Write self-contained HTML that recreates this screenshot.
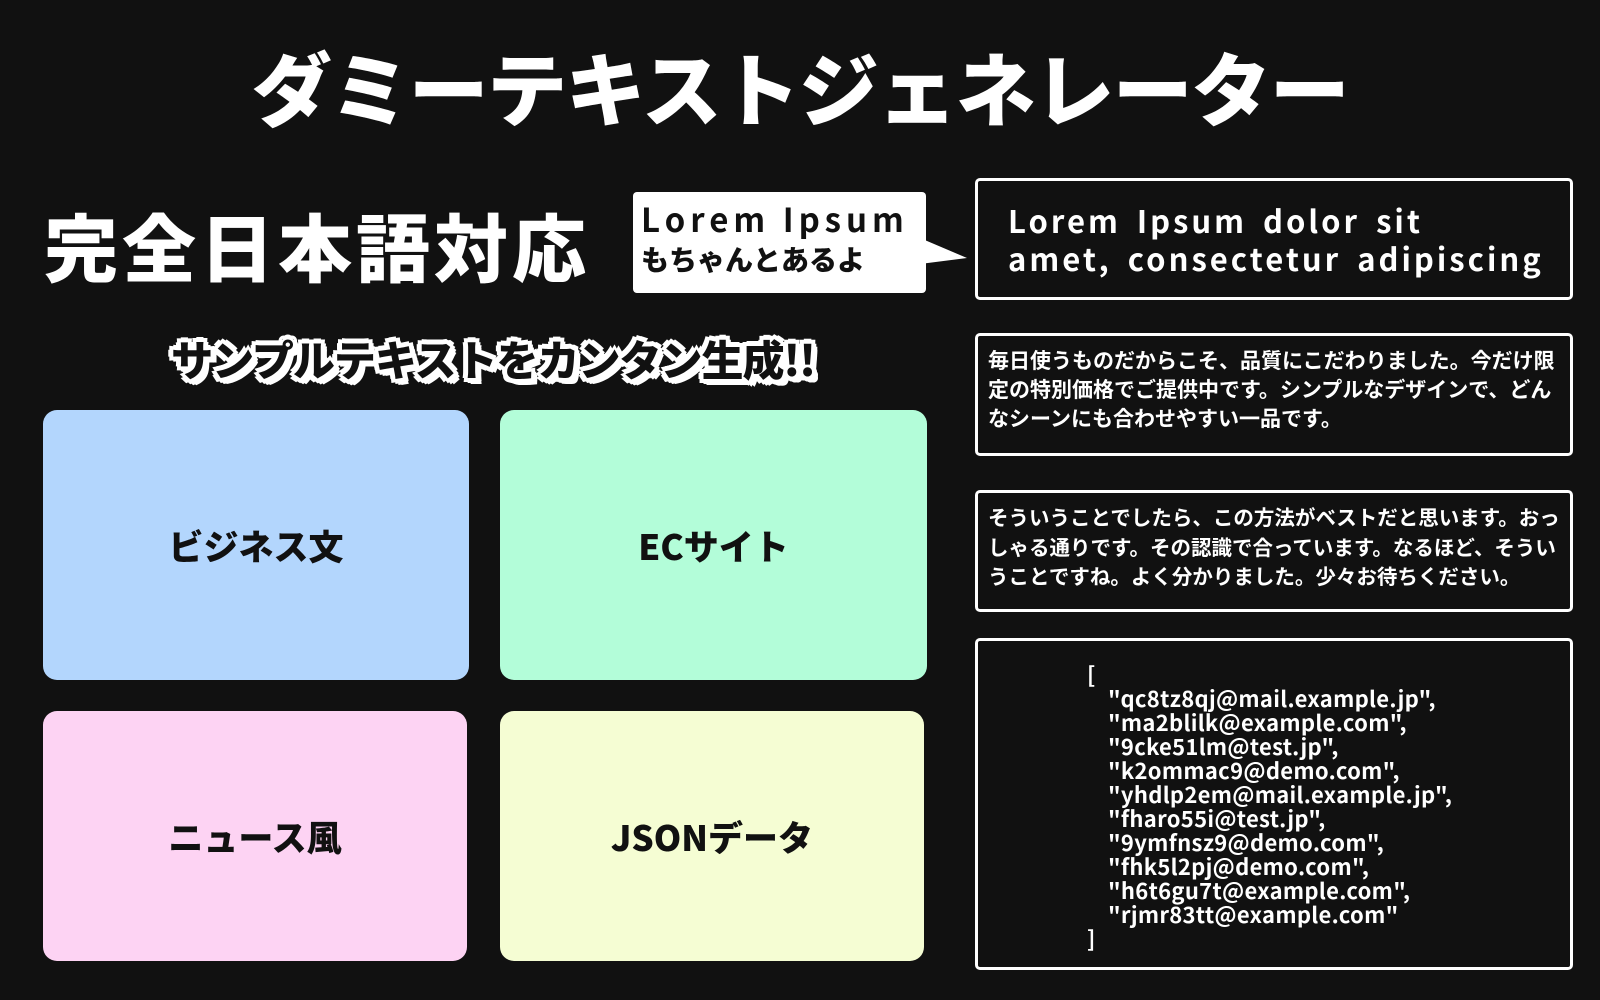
<!DOCTYPE html>
<html><head><meta charset="utf-8"><style>
*{margin:0;padding:0;box-sizing:border-box}
body{width:1600px;height:1000px;background:#111;position:relative;overflow:hidden;font-family:"Liberation Sans","Noto Sans CJK JP",sans-serif;font-weight:bold;color:#fff}
.a{position:absolute}
.t{font-family:"Noto Sans CJK JP",sans-serif;font-weight:900}
.box{position:absolute;border:3px solid #fff;border-radius:5px}
.card{position:absolute;border-radius:14px;display:flex;align-items:center;justify-content:center;color:#111;font-size:35px;font-family:"Noto Sans CJK JP",sans-serif;font-weight:900;letter-spacing:0px}
</style></head><body>
<div class="a t" style="left:0;width:1600px;top:31px;text-align:center;font-size:80px;line-height:110px;letter-spacing:-1.5px">ダミーテキストジェネレーター</div>
<div class="a t" style="left:44px;top:200px;font-size:74px;line-height:90px;letter-spacing:4px">完全日本語対応</div>
<div class="a" style="left:633px;top:192px;width:293px;height:101px;background:#fff;border-radius:4px"></div>
<svg class="a" style="left:920px;top:230px" width="50" height="60"><polygon points="0,8 47,28 0,34" fill="#fff"/></svg>
<div class="a t" style="left:641px;top:198px;color:#111;font-size:33px;line-height:40px;letter-spacing:5px;font-weight:700">Lorem Ipsum</div>
<div class="a t" style="left:641px;top:240px;color:#111;font-size:28px;line-height:38px">もちゃんとあるよ</div>
<div class="a t" style="left:158px;top:330px;width:670px;text-align:center;font-size:42px;line-height:58px;letter-spacing:-1px;color:#111;text-shadow:3px 0 #fff,-3px 0 #fff,0 3px #fff,0 -3px #fff,4px 4px #fff,-4px -4px #fff,4px -4px #fff,-4px 4px #fff,5px 0 #fff,-5px 0 #fff,0 5px #fff,0 -5px #fff,6px 6px #fff,3px 6px #fff,6px 3px #fff">サンプルテキストをカンタン生成!!</div>
<div class="card" style="left:43px;top:410px;width:426px;height:270px;background:#b3d6fd">ビジネス文</div>
<div class="card" style="left:500px;top:410px;width:427px;height:270px;background:#b3fdd9">ECサイト</div>
<div class="card" style="left:43px;top:711px;width:424px;height:250px;background:#fdd3f3">ニュース風</div>
<div class="card" style="left:500px;top:711px;width:424px;height:250px;background:#f5fdd3">JSONデータ</div>
<div class="box" style="left:975px;top:178px;width:598px;height:122px"></div>
<div class="a t" style="left:1008px;top:201px;font-size:31px;line-height:38px;letter-spacing:3px;font-weight:700;word-spacing:6px">Lorem Ipsum dolor sit<br>amet, consectetur adipiscing</div>
<div class="box" style="left:975px;top:333px;width:598px;height:123px"></div>
<div class="a t" style="left:988px;top:346px;width:575px;font-size:21px;line-height:29px;font-weight:700">毎日使うものだからこそ、品質にこだわりました。今だけ限定の特別価格でご提供中です。シンプルなデザインで、どんなシーンにも合わせやすい一品です。</div>
<div class="box" style="left:975px;top:490px;width:598px;height:122px"></div>
<div class="a t" style="left:988px;top:502px;width:582px;font-size:20.5px;line-height:29.5px;font-weight:700">そういうことでしたら、この方法がベストだと思います。おっ<br>しゃる通りです。その認識で合っています。なるほど、そうい<br>うことですね。よく分かりました。少々お待ちください。</div>
<div class="box" style="left:975px;top:638px;width:598px;height:332px"></div>
<div class="a t" style="left:1087px;top:662px;font-size:22px;line-height:24px;font-weight:700;white-space:pre;letter-spacing:0.3px">[</div>
<div class="a t" style="left:1108px;top:686px;font-size:22px;line-height:24px;font-weight:700;white-space:pre;letter-spacing:0.3px">"qc8tz8qj@mail.example.jp",
"ma2blilk@example.com",
"9cke51lm@test.jp",
"k2ommac9@demo.com",
"yhdlp2em@mail.example.jp",
"fharo55i@test.jp",
"9ymfnsz9@demo.com",
"fhk5l2pj@demo.com",
"h6t6gu7t@example.com",
"rjmr83tt@example.com"</div>
<div class="a t" style="left:1087px;top:926px;font-size:22px;line-height:24px;font-weight:700">]</div>
</body></html>
